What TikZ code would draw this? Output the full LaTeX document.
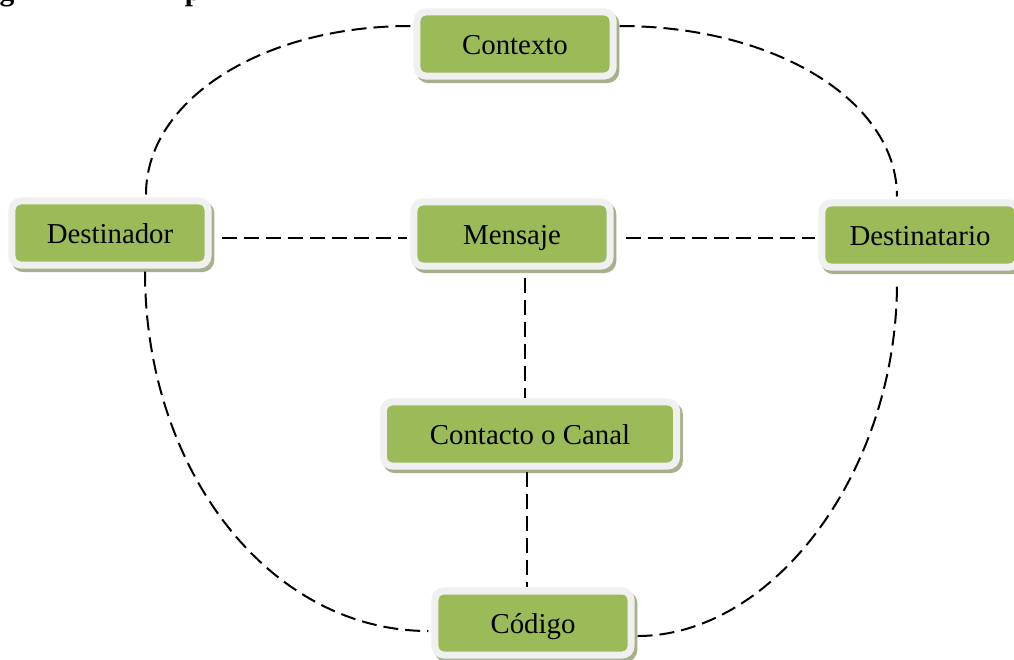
\documentclass[tikz,border=0pt]{standalone}
\usepackage{fontspec}
\setmainfont{Liberation Serif}
\usetikzlibrary{positioning, calc}
\definecolor{verde}{RGB}{155,187,89}
\definecolor{marco}{RGB}{240,240,240}
\definecolor{sombra}{RGB}{166,176,140}

\begin{document}
\begin{tikzpicture}[x=0.025cm, y=-0.025cm,
    caja/.style={rectangle, rounded corners=0.22cm, minimum width=4.9cm, minimum height=1.6cm,
        inner sep=0pt, fill=verde, draw=marco, line width=0.175cm,
        text height=0.6cm, text depth=0.08cm,
        preaction={draw=sombra, fill=sombra, transform canvas={xshift=0.07cm, yshift=-0.09cm}},
        font=\fontsize{20.5}{24}\selectfont},
    linea/.style={line width=0.05cm, dash pattern=on 0.375cm off 0.175cm},
    titulo/.style={font=\bfseries\fontsize{21}{24}\selectfont, inner sep=0pt, anchor=base}]
        \useasboundingbox (0,0) rectangle (1014,659);
        % restos del titulo
        \node[titulo] (tg) at (7,0) {g};
        \node[titulo] (tp) at (193,0) {p};

        \node[caja] (contexto) at (515,44) {Contexto};
        \node[caja] (destinador) at (110,233) {Destinador};
        \node[caja] (mensaje) at (512,234) {Mensaje};
        \node[caja] (destinatario) at (920,235) {Destinatario};
        \node[caja, minimum width=7.325cm] (contacto) at (530,434) {Contacto o Canal};
        \node[caja] (codigo) at (533,623) {Código};

        \draw[linea] ($(destinador.east)+(10,5)$) -- ($(mensaje.west)+(-3,4)$);
        \draw[linea] ($(mensaje.east)+(12,4)$) -- ($(destinatario.west)+(-3,3)$);
        \draw[linea] ($(mensaje.south)+(13,8)$) -- ($(contacto.north)+(-5,0)$);
        \draw[linea] ($(contacto.south)+(-3,2)$) -- ($(codigo.north)+(-6,0)$);

        % arcos exteriores
        \draw[linea] ($(destinador.north)+(36,-3)$) .. controls +(0,-95) and +(-148,0) .. ($(contexto.west)+(-3,-18)$);
        \draw[linea] ($(contexto.east)+(3,-18)$) .. controls +(155,0) and +(0,-96) .. ($(destinatario.north)+(-23,-3)$);
        \draw[linea] ($(destinador.south)+(35,3)$) .. controls +(0,200) and +(-158,0) .. ($(codigo.west)+(-3,8)$);
        \draw[linea] ($(codigo.east)+(3,13)$) .. controls +(135,0) and +(0,190) .. ($(destinatario.south)+(-23,12)$);
    \end{tikzpicture}
\end{document}
